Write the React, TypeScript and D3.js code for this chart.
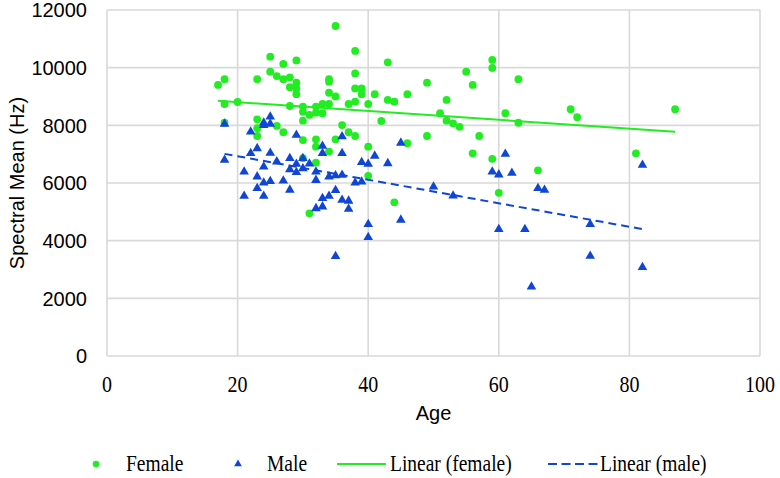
import * as d3 from "d3";
import { useEffect, useRef } from "react";

// Female speakers: age (years) and spectral mean (Hz)
const femaleAges = [
  17, 18, 18, 18, 20, 23, 25, 25, 27, 29, 26, 27, 28, 28, 29, 29, 29, 28, 23, 23,
  23, 26, 27, 30, 30, 30, 31, 32, 32, 33, 34, 33, 34, 34, 34, 35, 35, 38, 38, 38,
  39, 39, 41, 37, 38, 40, 43, 44, 46, 43, 49, 42, 36, 37, 38, 35, 32, 32, 30, 30,
  34, 40, 49, 46, 32, 40, 31, 44, 55, 56, 59, 59, 63, 52, 51, 52, 53, 54, 57, 56,
  59, 61, 63, 66, 60, 71, 72, 81, 87,
];
const femaleHz = [
  9400, 9600, 8740, 8090, 8810, 9600, 10380, 9860, 10130, 10250, 9710, 9600, 9665, 9320, 9480, 9280, 9080, 8670, 8210, 7900,
  7630, 7980, 7760, 8650, 8470, 8160, 8360, 8650, 8440, 8740, 8740, 8420, 9600, 9515, 9130, 9000, 11445, 10580, 9800, 9280,
  9280, 9080, 9080, 8740, 8820, 8740, 8880, 8820, 9080, 10185, 9480, 8150, 8010, 7760, 7630, 7515, 7515, 7260, 7490, 6860,
  7090, 7260, 7630, 7380, 6705, 6250, 4950, 5330, 9860, 9400, 10270, 9990, 9600, 8880, 8420, 8160, 8070, 7950, 7630, 7030,
  6840, 8420, 8090, 6440, 5660, 8560, 8280, 7030, 8560,
];

// Male speakers
const maleAges = [
  18, 18, 22, 22, 23, 21, 21, 23, 23, 24, 24, 25, 25, 24, 24, 24, 25, 25, 26, 27,
  28, 28, 28, 29, 29, 29, 30, 30, 31, 32, 32, 32, 33, 33, 33, 33, 34, 34, 35, 35,
  35, 36, 36, 36, 36, 37, 37, 38, 39, 39, 40, 40, 40, 41, 43, 45, 45, 50, 53, 59,
  60, 60, 61, 62, 64, 65, 66, 67, 74, 74, 82, 82,
];
const maleHz = [
  8050, 6800, 7780, 7030, 7200, 6390, 5550, 6220, 5815, 8090, 8000, 8300, 8050, 6565, 6010, 5550, 7040, 6060, 6740, 6080,
  6860, 6470, 5760, 7665, 6660, 6370, 6860, 6500, 6670, 6390, 6100, 5120, 7280, 7030, 5470, 5180, 6220, 5550, 6260, 5750,
  3460, 7610, 7030, 6277, 5410, 5380, 5100, 6010, 6045, 6720, 6659, 4570, 4120, 6940, 6680, 7390, 4720, 5870, 5560, 6390,
  6290, 4394, 7006, 6345, 4394, 2404, 5815, 5757, 4568, 3468, 6625, 3076,
];

// Linear trend lines (start and end of each fit)
const femaleTrendAges = [17, 87];
const femaleTrendHz = [8850, 7780];
const maleTrendAges = [18, 82];
const maleTrendHz = [7010, 4400];

const xTicks = [0, 20, 40, 60, 80, 100];
const yTicks = [0, 2000, 4000, 6000, 8000, 10000, 12000];

const legendItems = ["Female", "Male", "Linear (female)", "Linear (male)"];

const GREEN = "#22ec22";
const BLUE = "#0f46d6";
const GRID = "#d9d9d9";
const SANS = "Liberation Sans, Arial, sans-serif";
const SERIF = "Liberation Serif, Times New Roman, serif";

const App = () => {
  const svgRef = useRef(null);

  useEffect(() => {
    if (!svgRef.current) return;
    const svg = d3.select(svgRef.current);
    svg.selectAll("*").remove();

    const left = 107;
    const right = 760;
    const top = 10;
    const bottom = 356;

    const x = d3.scaleLinear().domain([0, 100]).range([left, right]);
    const y = d3.scaleLinear().domain([0, 12000]).range([bottom, top]);

    // grid
    const grid = svg.append("g").attr("stroke", GRID).attr("stroke-width", 1.6);
    grid
      .selectAll("line.h")
      .data(yTicks)
      .join("line")
      .attr("class", "h")
      .attr("x1", left)
      .attr("x2", right)
      .attr("y1", (d) => y(d))
      .attr("y2", (d) => y(d));
    grid
      .selectAll("line.v")
      .data(xTicks)
      .join("line")
      .attr("class", "v")
      .attr("x1", (d) => x(d))
      .attr("x2", (d) => x(d))
      .attr("y1", top)
      .attr("y2", bottom);

    // y tick labels
    svg
      .append("g")
      .selectAll("text")
      .data(yTicks)
      .join("text")
      .attr("x", left - 20)
      .attr("y", (d) => y(d))
      .attr("dy", "0.36em")
      .attr("text-anchor", "end")
      .attr("font-family", SANS)
      .attr("font-size", 20)
      .attr("fill", "#000")
      .text((d) => d);

    // x tick labels (serif, slightly tall)
    svg
      .append("g")
      .selectAll("text")
      .data(xTicks)
      .join("text")
      .attr("transform", (d) => `translate(${x(d)},${392}) scale(1,1.16)`)
      .attr("text-anchor", "middle")
      .attr("font-family", SERIF)
      .attr("font-size", 20)
      .attr("fill", "#000")
      .text((d) => d);

    // axis titles
    svg
      .append("text")
      .attr("x", (left + right) / 2)
      .attr("y", 420)
      .attr("text-anchor", "middle")
      .attr("font-family", SANS)
      .attr("font-size", 20)
      .text("Age");
    svg
      .append("text")
      .attr("transform", `translate(24,${(top + bottom) / 2}) rotate(-90)`)
      .attr("text-anchor", "middle")
      .attr("font-family", SANS)
      .attr("font-size", 20)
      .text("Spectral Mean (Hz)");

    // female points
    svg
      .append("g")
      .attr("fill", GREEN)
      .selectAll("circle")
      .data(femaleAges.map((a, i) => [a, femaleHz[i]]))
      .join("circle")
      .attr("cx", (d) => x(d[0]))
      .attr("cy", (d) => y(d[1]))
      .attr("r", 3.9);

    // male points
    const tri = d3.symbol(d3.symbolTriangle, 40);
    svg
      .append("g")
      .attr("fill", BLUE)
      .selectAll("path")
      .data(maleAges.map((a, i) => [a, maleHz[i]]))
      .join("path")
      .attr("transform", (d) => `translate(${x(d[0])},${y(d[1])})`)
      .attr("d", tri());

    // trend lines
    const line = d3
      .line()
      .x((d) => x(d[0]))
      .y((d) => y(d[1]));
    svg
      .append("path")
      .attr("d", line(femaleTrendAges.map((a, i) => [a, femaleTrendHz[i]])))
      .attr("fill", "none")
      .attr("stroke", GREEN)
      .attr("stroke-width", 2);
    svg
      .append("path")
      .attr("d", line(maleTrendAges.map((a, i) => [a, maleTrendHz[i]])))
      .attr("fill", "none")
      .attr("stroke", BLUE)
      .attr("stroke-width", 2)
      .attr("stroke-dasharray", "8,5");

    // legend
    const ly = 464;
    const lg = svg.append("g");
    lg.append("circle").attr("cx", 96).attr("cy", ly).attr("r", 3.3).attr("fill", GREEN);
    lg.append("path")
      .attr("transform", `translate(238,${ly})`)
      .attr("d", d3.symbol(d3.symbolTriangle, 26)())
      .attr("fill", BLUE);
    lg.append("line")
      .attr("x1", 337).attr("x2", 386).attr("y1", ly).attr("y2", ly)
      .attr("stroke", GREEN).attr("stroke-width", 2);
    lg.append("line")
      .attr("x1", 548).attr("x2", 598).attr("y1", ly).attr("y2", ly)
      .attr("stroke", BLUE).attr("stroke-width", 2).attr("stroke-dasharray", "9,4.5");
    const labelX = [126, 267, 390, 600];
    lg.selectAll("text")
      .data(legendItems)
      .join("text")
      .attr("transform", (_d, i) => `translate(${labelX[i]},${ly + 6.5}) scale(1,1.16)`)
      .attr("font-family", SERIF)
      .attr("font-size", 19.5)
      .attr("fill", "#000")
      .text((d) => d);
  }, []);

  return (
    <svg
      ref={svgRef}
      width={780}
      height={478}
      style={{ position: "absolute", left: 0, top: 0, background: "#fff" }}
    />
  );
};

export default App;
